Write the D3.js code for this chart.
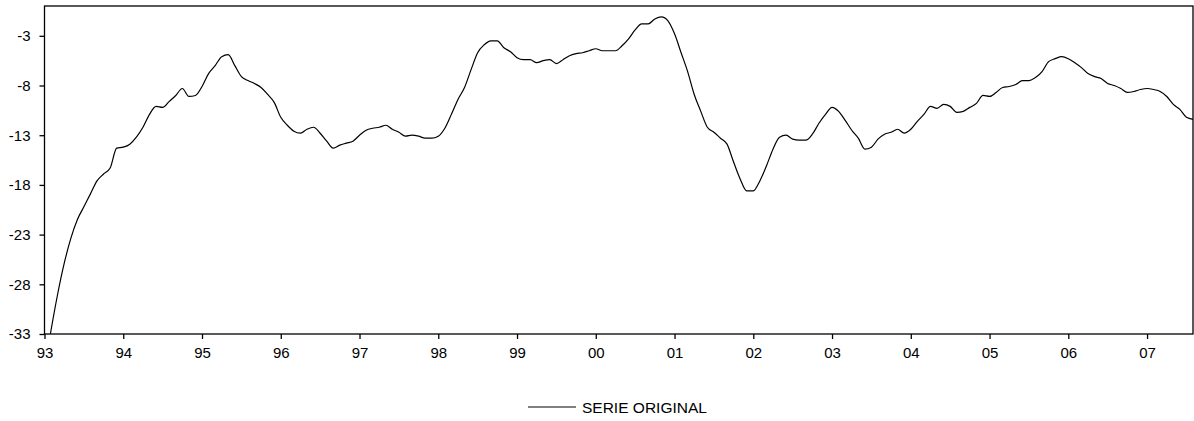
<!DOCTYPE html>
<html>
<head>
<meta charset="utf-8">
<script src="https://cdn.jsdelivr.net/npm/d3@7"></script>
<style>
  body { margin: 0; background: #fff; }
  svg { display: block; font-family: "Liberation Sans", Arial, sans-serif; }
  .axis text { font-family: "Liberation Sans", Arial, sans-serif; font-size: 15px; fill: #000; }
  .axis path, .axis line { stroke: #000; stroke-width: 1.3px; }
</style>
</head>
<body>
<div id="chart"></div>
<script>
// Year labels (one tick per January)
var year_labels = ["93", "94", "95", "96", "97", "98", "99", "00", "01", "02", "03", "04", "05", "06", "07"];

// Y axis ticks
var y_ticks = [-3, -8, -13, -18, -23, -28, -33];

// Monthly values, Jan 1993 .. Aug 2007
var serie_original = [
  -36.5, -32.6, -29.0, -25.9, -23.4, -21.5, -20.2, -18.9, -17.6, -16.9, -16.3, -14.3,
  -14.2, -13.9, -13.2, -12.2, -10.9, -10.1, -10.2, -9.6, -9.0, -8.3, -9.1, -9.0,
  -8.1, -6.8, -6.0, -5.1, -4.9, -6.0, -7.1, -7.5, -7.8, -8.2, -8.9, -9.7,
  -11.2, -12.0, -12.6, -12.8, -12.4, -12.2, -12.8, -13.6, -14.3, -14.0, -13.8, -13.6,
  -13.0, -12.5, -12.3, -12.2, -12.0, -12.4, -12.7, -13.1, -13.0, -13.1, -13.3, -13.3,
  -13.1, -12.3, -10.9, -9.4, -8.2, -6.4, -4.7, -3.9, -3.5, -3.5, -4.2, -4.6,
  -5.2, -5.4, -5.4, -5.7, -5.5, -5.4, -5.8, -5.4, -5.0, -4.8, -4.7, -4.5,
  -4.3, -4.5, -4.5, -4.5, -4.0, -3.3, -2.4, -1.8, -1.8, -1.3, -1.1, -1.5,
  -2.8, -4.7, -6.6, -8.9, -10.6, -12.2, -12.7, -13.3, -13.9, -15.7, -17.4, -18.6,
  -18.6, -17.6, -16.1, -14.4, -13.2, -13.0, -13.4, -13.5, -13.5, -12.9, -11.8, -10.9,
  -10.2, -10.6, -11.5, -12.5, -13.3, -14.4, -14.2, -13.4, -12.9, -12.7, -12.4, -12.8,
  -12.4, -11.6, -10.9, -10.1, -10.3, -9.9, -10.1, -10.7, -10.6, -10.2, -9.8, -9.0,
  -9.1, -8.7, -8.2, -8.1, -7.9, -7.5, -7.5, -7.2, -6.6, -5.6, -5.3, -5.1,
  -5.3, -5.7, -6.2, -6.8, -7.1, -7.3, -7.8, -8.0, -8.3, -8.7, -8.6, -8.4,
  -8.3, -8.4, -8.6, -9.1, -9.9, -10.4, -11.2, -11.4
];

var series_name = "SERIE ORIGINAL";

// Screen variables
var W = 1194, H = 421;
var margin = {top: 6, right: 1, bottom: 87, left: 44.5};
var width = W - margin.left - margin.right;
var height = H - margin.top - margin.bottom;

var svg = d3.select("#chart")
            .append("svg")
            .attr("width", W)
            .attr("height", H);

var g = svg.append("g")
           .attr("transform", "translate(" + margin.left + "," + margin.top + ")");

// Scales
var x = d3.scaleLinear()
          .domain([0, serie_original.length - 1])
          .range([0, width]);

var y = d3.scaleLinear()
          .domain([-33, 0])
          .range([height, 0]);

// Clip so the line stays inside the plot area
g.append("clipPath").attr("id", "plot-clip")
 .append("rect")
 .attr("width", width)
 .attr("height", height);

// Axes
var bottomAxis = d3.axisBottom(x)
                   .tickValues(year_labels.map(function(d, i) { return i * 12; }))
                   .tickFormat(function(d) { return year_labels[d / 12]; })
                   .tickSizeInner(5)
                   .tickSizeOuter(0)
                   .tickPadding(8);

var leftAxis = d3.axisLeft(y)
                 .tickValues(y_ticks)
                 .tickFormat(function(d) { return String(d); })   // plain hyphen, not U+2212
                 .tickSizeInner(5)
                 .tickSizeOuter(0)
                 .tickPadding(9);

g.append("g").attr("class", "axis")
 .attr("transform", "translate(0," + height + ")")
 .call(bottomAxis)
 .call(function(s) { s.select(".domain").remove(); });

g.append("g").attr("class", "axis")
 .call(leftAxis)
 .call(function(s) { s.select(".domain").remove(); });

// Plot frame
g.append("rect")
 .attr("width", width)
 .attr("height", height)
 .attr("fill", "none")
 .attr("stroke", "#000")
 .attr("stroke-width", 1.3);

// Series line
var line = d3.line()
             .x(function(d, i) { return x(i); })
             .y(function(d) { return y(d); })
             .curve(d3.curveMonotoneX);

g.append("path")
 .datum(serie_original)
 .attr("clip-path", "url(#plot-clip)")
 .attr("fill", "none")
 .attr("stroke", "#000")
 .attr("stroke-width", 1.2)
 .attr("d", line);

// Legend
var legend = svg.append("g").attr("transform", "translate(528,407)");
legend.append("line")
      .attr("x1", 0).attr("x2", 48)
      .attr("y1", 0).attr("y2", 0)
      .attr("stroke", "#000")
      .attr("stroke-width", 1.2);
legend.append("text")
      .attr("x", 54)
      .attr("y", 5.5)
      .attr("font-size", "15.5px")
      .text(series_name);
</script>
</body>
</html>
